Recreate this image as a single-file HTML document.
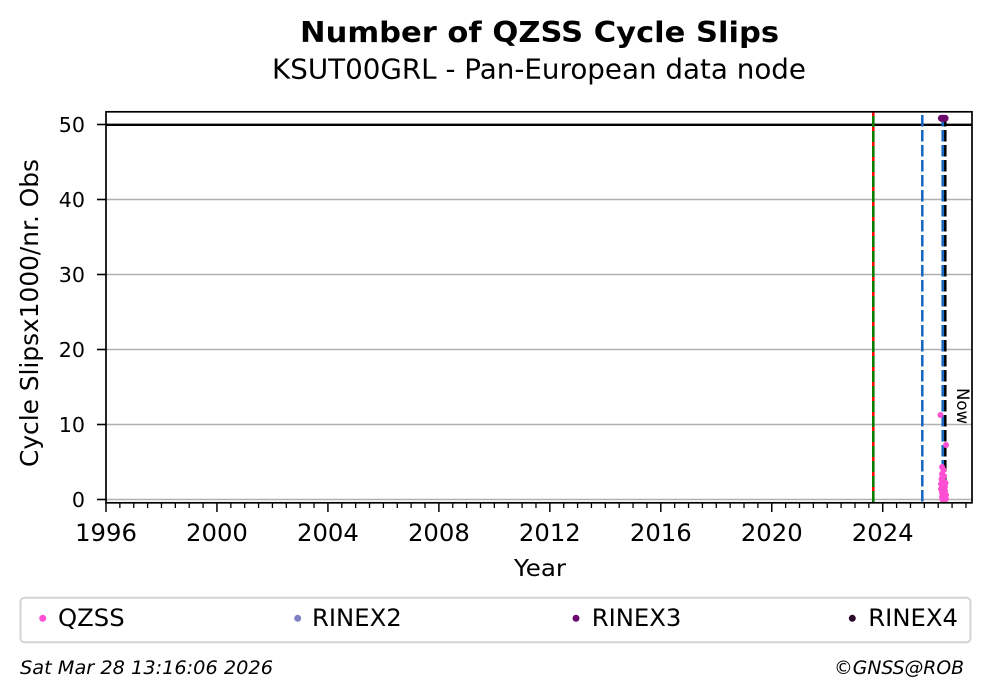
<!DOCTYPE html>
<html><head><meta charset="utf-8"><style>
html,body{margin:0;padding:0;background:#fff;}
svg{display:block;}
text{font-family:"DejaVu Sans","Liberation Sans",sans-serif;fill:#000;}
</style></head><body>
<svg width="992" height="699" viewBox="0 0 992 699" xmlns="http://www.w3.org/2000/svg">
<rect width="992" height="699" fill="#fff"/>
<!-- titles -->
<text x="539.5" y="42" font-size="28.5" font-weight="bold" text-anchor="middle" textLength="479" lengthAdjust="spacingAndGlyphs">Number of QZSS Cycle Slips</text>
<text x="539" y="78.5" font-size="27.5" text-anchor="middle" textLength="534" lengthAdjust="spacingAndGlyphs">KSUT00GRL - Pan-European data node</text>

<!-- grid -->
<g stroke="#b0b0b0" stroke-width="1.6">
<line x1="106" y1="499.5" x2="972" y2="499.5"/>
<line x1="106" y1="424.5" x2="972" y2="424.5"/>
<line x1="106" y1="349.5" x2="972" y2="349.5"/>
<line x1="106" y1="274.5" x2="972" y2="274.5"/>
<line x1="106" y1="199.5" x2="972" y2="199.5"/>
</g>
<line x1="106" y1="124.8" x2="972" y2="124.8" stroke="#000" stroke-width="2.4"/>

<!-- vertical lines -->
<line x1="873.3" y1="112" x2="873.3" y2="503" stroke="#ff0000" stroke-width="2.5"/>
<line x1="873.3" y1="116" x2="873.3" y2="503" stroke="#008000" stroke-width="2.5" stroke-dasharray="11 4"/>
<line x1="922.3" y1="115" x2="922.3" y2="503" stroke="#1565c0" stroke-width="2.5" stroke-dasharray="11.5 3.5"/>
<line x1="942.7" y1="115" x2="942.7" y2="503" stroke="#1565c0" stroke-width="2.5" stroke-dasharray="11.5 3.5"/>
<line x1="945.3" y1="115" x2="945.3" y2="503" stroke="#000" stroke-width="2.5" stroke-dasharray="11.5 3.5"/>

<!-- Now -->
<text transform="translate(957,388) rotate(90)" font-size="16.5" textLength="36" lengthAdjust="spacingAndGlyphs">Now</text>

<!-- QZSS points -->
<g fill="#ff4fd3">
<circle cx="940.5" cy="415" r="3"/>
<circle cx="946" cy="445" r="3"/>
<circle cx="942" cy="467" r="3"/>
<circle cx="943.5" cy="470" r="3"/>
<circle cx="942" cy="474" r="3"/>
<circle cx="944" cy="476" r="3"/>
<circle cx="941.5" cy="479" r="3"/>
<circle cx="943.5" cy="481" r="3"/>
<circle cx="945.5" cy="483" r="3"/>
<circle cx="941" cy="484" r="3"/>
<circle cx="943" cy="486" r="3"/>
<circle cx="945" cy="487" r="3"/>
<circle cx="941" cy="489" r="3"/>
<circle cx="943" cy="490" r="3"/>
<circle cx="945" cy="491" r="3"/>
<circle cx="942" cy="493" r="3"/>
<circle cx="944" cy="494" r="3"/>
<circle cx="946" cy="495" r="3"/>
<circle cx="942" cy="497" r="3"/>
<circle cx="944.5" cy="497.5" r="3"/>
<circle cx="946" cy="499" r="3"/>
<circle cx="942.5" cy="499.5" r="3"/>
<circle cx="944" cy="500" r="3"/>
</g>
<!-- RINEX3 markers at top -->
<g fill="#6b0a6b">
<circle cx="941.5" cy="118.3" r="3.6"/>
<circle cx="943.3" cy="118.3" r="3.6"/>
<circle cx="945" cy="118.3" r="3.6"/>
</g>

<!-- frame -->
<rect x="106" y="111.8" width="866" height="391" fill="none" stroke="#000" stroke-width="1.7"/>

<!-- y ticks -->
<g stroke="#000" stroke-width="1.6">
<line x1="97" y1="499.5" x2="106" y2="499.5"/>
<line x1="97" y1="424.5" x2="106" y2="424.5"/>
<line x1="97" y1="349.5" x2="106" y2="349.5"/>
<line x1="97" y1="274.5" x2="106" y2="274.5"/>
<line x1="97" y1="199.5" x2="106" y2="199.5"/>
<line x1="97" y1="124.5" x2="106" y2="124.5"/>
</g>
<g font-size="20.6" text-anchor="end">
<text x="85" y="507">0</text>
<text x="85" y="432">10</text>
<text x="85" y="357">20</text>
<text x="85" y="282">30</text>
<text x="85" y="207">40</text>
<text x="85" y="132">50</text>
</g>

<!-- x ticks -->
<g stroke="#000" stroke-width="1.5">
<line x1="106" y1="503" x2="106" y2="512"/>
<line x1="216.96" y1="503" x2="216.96" y2="512"/>
<line x1="327.92" y1="503" x2="327.92" y2="512"/>
<line x1="438.88" y1="503" x2="438.88" y2="512"/>
<line x1="549.84" y1="503" x2="549.84" y2="512"/>
<line x1="660.8" y1="503" x2="660.8" y2="512"/>
<line x1="771.76" y1="503" x2="771.76" y2="512"/>
<line x1="882.72" y1="503" x2="882.72" y2="512"/>
</g>
<path stroke="#000" stroke-width="1.3" fill="none" d="
M119.87 503v5M133.74 503v5M147.61 503v5M161.48 503v5M175.35 503v5M189.22 503v5M203.09 503v5
M230.83 503v5M244.7 503v5M258.57 503v5M272.44 503v5M286.31 503v5M300.18 503v5M314.05 503v5
M341.79 503v5M355.66 503v5M369.53 503v5M383.4 503v5M397.27 503v5M411.14 503v5M425.01 503v5
M452.75 503v5M466.62 503v5M480.49 503v5M494.36 503v5M508.23 503v5M522.1 503v5M535.97 503v5
M563.71 503v5M577.58 503v5M591.45 503v5M605.32 503v5M619.19 503v5M633.06 503v5M646.93 503v5
M674.67 503v5M688.54 503v5M702.41 503v5M716.28 503v5M730.15 503v5M744.02 503v5M757.89 503v5
M785.63 503v5M799.5 503v5M813.37 503v5M827.24 503v5M841.11 503v5M854.98 503v5M868.85 503v5
M896.59 503v5M910.46 503v5M924.33 503v5M938.2 503v5M952.07 503v5M965.94 503v5"/>
<g font-size="24.3" text-anchor="middle">
<text x="106" y="541">1996</text>
<text x="216.96" y="541">2000</text>
<text x="327.92" y="541">2004</text>
<text x="438.88" y="541">2008</text>
<text x="549.84" y="541">2012</text>
<text x="660.8" y="541">2016</text>
<text x="771.76" y="541">2020</text>
<text x="882.72" y="541">2024</text>
</g>

<!-- axis labels -->
<text x="540" y="576" font-size="23" text-anchor="middle" textLength="52" lengthAdjust="spacingAndGlyphs">Year</text>
<text transform="translate(38,313) rotate(-90)" font-size="24.5" text-anchor="middle" textLength="308" lengthAdjust="spacingAndGlyphs">Cycle Slipsx1000/nr. Obs</text>

<!-- legend -->
<rect x="20.5" y="597.8" width="950" height="44.5" rx="4" ry="4" fill="#fff" stroke="#d4d4d4" stroke-width="2"/>
<circle cx="42.7" cy="618.3" r="3.5" fill="#ff4fd3"/>
<circle cx="297.7" cy="618.3" r="3.5" fill="#8080c4"/>
<circle cx="576" cy="618.3" r="3.5" fill="#6b0a6b"/>
<circle cx="852.3" cy="618.3" r="3.5" fill="#2a0a2a"/>
<g font-size="24.3">
<text x="58" y="626">QZSS</text>
<text x="312" y="626">RINEX2</text>
<text x="591.7" y="626">RINEX3</text>
<text x="868.3" y="626">RINEX4</text>
</g>

<!-- footer -->
<text x="20" y="674" font-size="18.3" font-style="italic" textLength="253" lengthAdjust="spacingAndGlyphs">Sat Mar 28 13:16:06 2026</text>
<text x="964" y="674" font-size="18.3" font-style="italic" text-anchor="end" textLength="130" lengthAdjust="spacingAndGlyphs">©GNSS@ROB</text>
</svg>
</body></html>
